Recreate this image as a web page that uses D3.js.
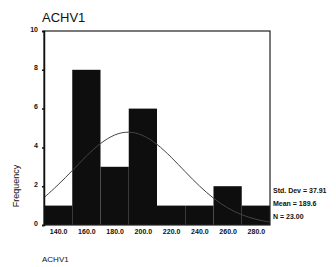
<!DOCTYPE html>
<html>
<head>
<meta charset="utf-8">
<script src="https://cdn.jsdelivr.net/npm/d3@7"></script>
<style>
body { margin: 0; background: #fff; }
text { font-family: "Liberation Sans", Arial, sans-serif; fill: #111; }
</style>
</head>
<body>
<div id="chart"></div>
<script>
// histogram of ACHV1, bins of width 20
var binCenters = [140, 160, 180, 200, 220, 240, 260, 280];
var counts = [1, 8, 3, 6, 1, 1, 2, 1];
var yTicks = [0, 2, 4, 6, 8, 10];
var xTickLabels = ["140.0", "160.0", "180.0", "200.0", "220.0", "240.0", "260.0", "280.0"];
// fitted normal curve
var curveX = [130, 140, 150, 160, 170, 180, 190, 200, 210, 220, 230, 240, 250, 260, 270, 280, 290];
var curveY = [1.41, 2.06, 2.80, 3.57, 4.23, 4.69, 4.84, 4.66, 4.19, 3.51, 2.74, 2.00, 1.36, 0.86, 0.51, 0.28, 0.15];
var stats = ["Std. Dev = 37.91", "Mean = 189.6", "N = 23.00"];

var width = 336;
var height = 267;

var svg = d3.select('#chart')
    .append('svg')
    .attr('width', width)
    .attr('height', height);

var x = d3.scaleLinear().domain([130, 290]).range([44, 270]);
var y = d3.scaleLinear().domain([0, 10]).range([225, 31]);

// bars
svg.append("g")
    .selectAll("rect")
    .data(counts)
    .enter()
    .append("rect")
    .attr("x", (d, i) => x(binCenters[i] - 10))
    .attr("width", (d, i) => x(binCenters[i] + 10) - x(binCenters[i] - 10))
    .attr("y", (d) => y(d))
    .attr("height", (d) => y(0) - y(d))
    .attr("fill", "#0e0e0e");

// normal curve
var line = d3.line()
    .x((d, i) => x(curveX[i]))
    .y((d) => y(d))
    .curve(d3.curveBasis);

svg.append("path")
    .attr("d", line(curveY))
    .attr("fill", "none")
    .attr("stroke", "#444")
    .attr("stroke-width", 1);

// frame
svg.append("rect")
    .attr("x", 44)
    .attr("y", 31)
    .attr("width", 226)
    .attr("height", 194)
    .attr("fill", "none")
    .attr("stroke", "#222")
    .attr("stroke-width", 1.2);

// y axis
var yAxis = d3.axisLeft(y).tickValues(yTicks).tickSize(2).tickPadding(4);
var gy = svg.append("g").attr("transform", "translate(44,0)").call(yAxis);
gy.select(".domain").attr("stroke", "#111").attr("stroke-width", 1.5);
gy.selectAll(".tick line").attr("stroke", "#111").attr("stroke-width", 1.5);
gy.selectAll("text")
    .attr("font-size", 7)
    .attr("font-weight", "bold")
    .attr("dy", "0")
    .attr("fill", "#111");

// x axis tick labels
var xAxis = d3.axisBottom(x).tickValues(binCenters).tickSize(0).tickPadding(4)
    .tickFormat((d, i) => xTickLabels[i]);
var gx = svg.append("g").attr("transform", "translate(0,225)").call(xAxis);
gx.select(".domain").remove();
gx.selectAll("text")
    .attr("font-size", 7)
    .attr("font-weight", "bold")
    .attr("fill", "#111");

// title
svg.append("text")
    .attr("x", 42)
    .attr("y", 22)
    .attr("font-size", 13)
    .text("ACHV1");

// axis titles
svg.append("text")
    .attr("transform", "translate(19,186) rotate(-90)")
    .attr("text-anchor", "middle")
    .attr("font-size", 9)
    .text("Frequency");

svg.append("text")
    .attr("x", 42)
    .attr("y", 262)
    .attr("font-size", 8)
    .text("ACHV1");

// stats legend
svg.append("g")
    .selectAll("text")
    .data(stats)
    .enter()
    .append("text")
    .attr("x", 273)
    .attr("y", (d, i) => 193 + i * 13)
    .attr("font-size", 7)
    .attr("font-weight", "bold")
    .text((d) => d);
</script>
</body>
</html>
